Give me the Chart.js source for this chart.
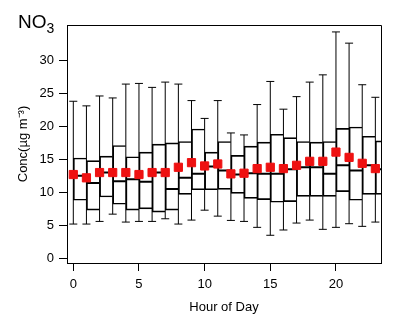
<!DOCTYPE html>
<html>
<head>
<meta charset="utf-8">
<script src="https://cdn.jsdelivr.net/npm/chart.js@4.4.0/dist/chart.umd.min.js"></script>
<style>
  body { margin: 0; background: #fff; }
  #wrap { position: relative; width: 398px; height: 322px; }
  #title { position: absolute; left: 18px; top: 12px; font-family: "Liberation Sans", Arial, sans-serif; font-size: 19px; line-height: 19px; color: #000; }
  #title span { font-size: 14px; position: relative; top: 5px; }
</style>
</head>
<body>
<div id="wrap">
  <canvas id="chart" width="398" height="322"></canvas>
  <div id="title">NO<span>3</span></div>
</div>
<script>
const hours = [0, 1, 2, 3, 4, 5, 6, 7, 8, 9, 10, 11, 12, 13, 14, 15, 16, 17, 18, 19, 20, 21, 22, 23];
const whiskerLow = [5.2, 5.2, 5.6, 6.7, 5.5, 5.6, 5.6, 6.0, 5.2, 5.8, 7.3, 6.4, 5.75, 5.6, 4.7, 3.5, 4.3, 5.35, 5.8, 4.4, 4.7, 5.25, 4.85, 5.5];
const boxLow = [8.8, 7.3, 9.3, 8.2, 7.3, 7.5, 7.0, 7.3, 9.7, 10.4, 10.4, 10.45, 9.85, 9.1, 8.9, 8.5, 8.6, 9.4, 9.4, 9.4, 10.1, 8.8, 9.7, 9.7];
const medians = [12.5, 11.4, 13.0, 11.7, 12.0, 11.6, 13.0, 10.5, 12.2, 12.8, 13.9, 13.3, 12.7, 12.9, 12.8, 12.8, 13.5, 13.8, 13.8, 12.8, 14.1, 13.3, 14.1, 13.5];
const boxHigh = [15.2, 14.8, 15.5, 17.1, 15.4, 16.1, 17.3, 17.5, 17.7, 19.6, 16.1, 17.7, 15.6, 17.0, 17.6, 18.8, 18.3, 17.7, 17.6, 17.7, 19.7, 19.9, 18.5, 17.8];
const whiskerHigh = [23.8, 23.1, 24.6, 24.3, 26.4, 26.5, 25.9, 26.7, 26.4, 23.9, 21.2, 23.9, 19.0, 18.7, 23.3, 26.8, 22.6, 24.5, 26.7, 27.8, 34.3, 32.6, 26.3, 24.4];
const means = [12.7, 12.2, 13.0, 13.0, 13.0, 12.7, 13.0, 13.0, 13.8, 14.5, 14.0, 14.3, 12.8, 12.9, 13.6, 13.8, 13.6, 14.1, 14.7, 14.7, 16.1, 15.3, 14.4, 13.6];
const xTicks = [0, 5, 10, 15, 20];
const yTicks = [0, 5, 10, 15, 20, 25, 30];

const font = { family: "'Liberation Sans', Arial, sans-serif", size: 13 };

// boxes span one hour to the right of each whisker
const boxData = hours.map((h, i) => ({ x: h + 0.5, y: [boxLow[i], boxHigh[i]] }));
const whiskerData = hours.flatMap((h, i) => [
    { x: h, y: whiskerLow[i] }, { x: h, y: whiskerHigh[i] }, { x: h, y: null }
]);
const capData = hours.flatMap((h, i) => [{ x: h, y: whiskerLow[i] }, { x: h, y: whiskerHigh[i] }]);
const medianData = hours.flatMap((h, i) => [
    { x: h, y: medians[i] }, { x: h + 1, y: medians[i] }, { x: h + 1, y: null }
]);
const meanData = hours.map((h, i) => ({ x: h, y: means[i] }));

const frame = {
    id: "frame",
    afterDatasetsDraw(chart) {
        const { ctx, chartArea: a } = chart;
        ctx.save();
        ctx.strokeStyle = "#000";
        ctx.lineWidth = 1;
        ctx.beginPath();
        ctx.moveTo(a.left, Math.round(a.top) + 0.5);
        ctx.lineTo(Math.round(a.right) + 0.5, Math.round(a.top) + 0.5);
        ctx.lineTo(Math.round(a.right) + 0.5, a.bottom);
        ctx.stroke();
        ctx.restore();
    }
};

new Chart(document.getElementById("chart"), {
    type: "bar",
    data: {
        datasets: [
            {
                type: "line", data: meanData, showLine: false,
                pointStyle: "rect", pointRadius: 5.8, pointBorderWidth: 1,
                pointBackgroundColor: "#ee1111", pointBorderColor: "#ee1111"
            },
            {
                type: "line", data: medianData, spanGaps: false,
                borderColor: "#000", borderWidth: 2, pointRadius: 0
            },
            {
                type: "line", data: capData, showLine: false,
                pointStyle: "line", pointRadius: 4, pointBorderWidth: 1, pointBorderColor: "#000"
            },
            {
                type: "line", data: whiskerData, spanGaps: false,
                borderColor: "#000", borderWidth: 1, pointRadius: 0
            },
            {
                type: "bar", data: boxData, grouped: false,
                backgroundColor: "rgba(0,0,0,0)", borderColor: "#000", borderWidth: 1,
                borderSkipped: "right", barPercentage: 1, categoryPercentage: 1
            }
        ]
    },
    options: {
        responsive: false,
        animation: false,
        events: [],
        layout: { padding: { top: 25, right: 17, left: 0, bottom: 0 } },
        plugins: { legend: { display: false }, tooltip: { enabled: false } },
        scales: {
            x: {
                type: "linear", offset: false, min: -0.48, max: 23.43,
                afterFit: s => { s.height = 59; },
                afterBuildTicks: s => { s.ticks = xTicks.map(v => ({ value: v })); },
                grid: { display: true, drawOnChartArea: false, drawTicks: true, tickLength: 8, color: "#000", offset: false },
                border: { display: true, color: "#000", width: 1 },
                ticks: { font: font, color: "#000", padding: 6, maxRotation: 0 },
                title: { display: true, text: "Hour of Day", font: font, color: "#000", padding: { bottom: 7 } }
            },
            y: {
                type: "linear", min: -0.7, max: 35.35,
                afterFit: s => { s.width = 67; },
                afterBuildTicks: s => { s.ticks = yTicks.map(v => ({ value: v })); },
                grid: { display: true, drawOnChartArea: false, drawTicks: true, tickLength: 8, color: "#000" },
                border: { display: true, color: "#000", width: 1 },
                ticks: { font: font, color: "#000", padding: 5 },
                title: { display: true, text: "Conc(µg m⁻³)", font: font, color: "#000", padding: { top: 16 } }
            }
        }
    },
    plugins: [frame]
});
</script>
</body>
</html>
